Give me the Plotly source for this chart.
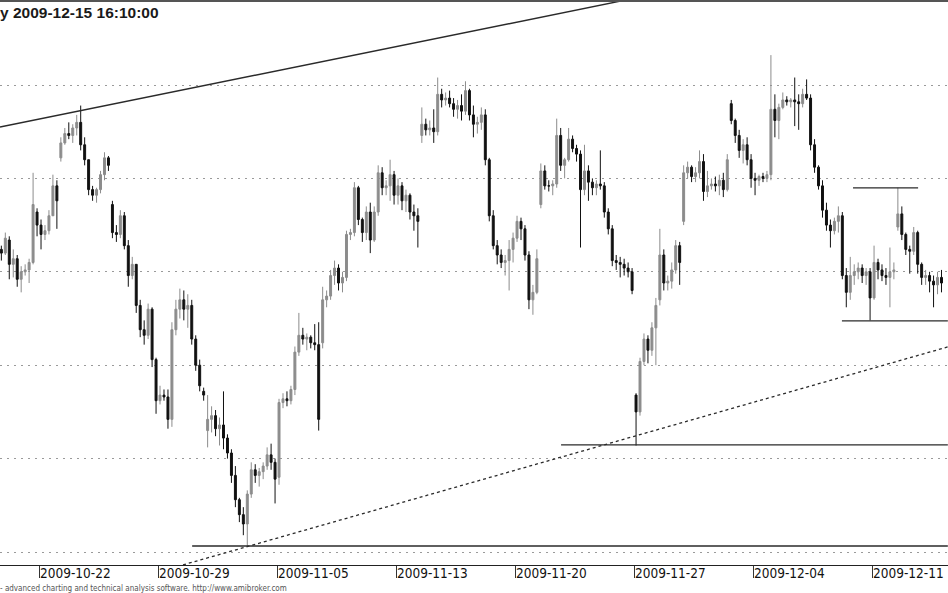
import plotly.graph_objects as go

# Trading days shown (hourly-style bars, 6 per day)
days = ["2009-10-20", "2009-10-21", "2009-10-22", "2009-10-23", "2009-10-26", "2009-10-27",
        "2009-10-28", "2009-10-29", "2009-10-30", "2009-11-02", "2009-11-03", "2009-11-04",
        "2009-11-05", "2009-11-06", "2009-11-09", "2009-11-10", "2009-11-12", "2009-11-13",
        "2009-11-16", "2009-11-17", "2009-11-18", "2009-11-19", "2009-11-20", "2009-11-23",
        "2009-11-24", "2009-11-25", "2009-11-26", "2009-11-27", "2009-11-30", "2009-12-01",
        "2009-12-02", "2009-12-03", "2009-12-04", "2009-12-07", "2009-12-08", "2009-12-09",
        "2009-12-10", "2009-12-11", "2009-12-14", "2009-12-15"]
bars_per_day = 6

opens = [
    2312, 2311, 2312, 2310, 2317, 2304,
    2307, 2296, 2300, 2301, 2305, 2332,
    2325, 2320, 2322, 2330, 2346, 2361,
    2369, 2374, 2373, 2377, 2380, 2368,
    2360, 2344, 2341, 2344, 2352, 2361,
    2336, 2321, 2320, 2330, 2314, 2298,
    2304, 2282, 2269, 2266, 2280, 2253,
    2231, 2234, 2233, 2221, 2269, 2280,
    2285, 2280, 2282, 2264, 2250, 2236,
    2215, 2221, 2223, 2216, 2218, 2211,
    2203, 2191, 2178, 2170, 2165, 2181,
    2194, 2191, 2193, 2196, 2202, 2198,
    2190, 2230, 2232, 2231, 2237, 2257,
    2266, 2264, 2265, 2262, 2261, 2262,
    2285, 2287, 2298, 2302, 2294, 2297,
    2320, 2321, 2345, 2328, 2321, 2332,
    2317, 2332, 2353, 2345, 2346, 2352,
    2341, 2346, 2338, 2341, 2332, 2330,
    2373, 2379, 2376, 2377, 2375, 2395,
    2392, 2393, 2390, 2387, 2389, 2386,
    2397, 2384, 2379, 2380, 2384, 2360,
    2330, 2314, 2309, 2305, 2306, 2312,
    2318, 2327, 2323, 2309, 2285, 2289,
    2336, 2354, 2346, 2346, 2347, 2373,
    2357, 2360, 2371, 2366, 2363, 2344,
    2354, 2348, 2345, 2347, 2346, 2332,
    2323, 2306, 2305, 2304, 2302, 2300,
    2234, 2225, 2252, 2264, 2258, 2270,
    2285, 2309, 2294, 2295, 2301, 2314,
    2327, 2353, 2356, 2351, 2353, 2359,
    2343, 2346, 2347, 2346, 2349, 2344,
    2390, 2381, 2373, 2365, 2368, 2360,
    2350, 2349, 2351, 2350, 2352, 2387,
    2381, 2388, 2392, 2391, 2392, 2391,
    2390, 2395, 2393, 2368, 2356, 2346,
    2333, 2325, 2322, 2327, 2330, 2298,
    2289, 2298, 2300, 2302, 2298, 2300,
    2286, 2305, 2301, 2298, 2297, 2300,
    2324, 2331, 2320, 2312, 2311, 2321,
    2304, 2297, 2298, 2295, 2293, 2297,
]
highs = [
    2315, 2314, 2314, 2321, 2319, 2312,
    2309, 2303, 2304, 2307, 2353, 2334,
    2328, 2325, 2333, 2352, 2349, 2372,
    2377, 2380, 2379, 2384, 2389, 2372,
    2360, 2346, 2345, 2354, 2364, 2362,
    2338, 2325, 2333, 2332, 2317, 2308,
    2304, 2285, 2274, 2283, 2281, 2254,
    2239, 2237, 2237, 2273, 2285, 2291,
    2290, 2288, 2285, 2266, 2253, 2238,
    2234, 2228, 2226, 2222, 2236, 2213,
    2205, 2196, 2179, 2174, 2183, 2198,
    2197, 2195, 2198, 2206, 2208, 2200,
    2232, 2235, 2236, 2239, 2260, 2278,
    2270, 2267, 2266, 2272, 2273, 2292,
    2290, 2301, 2306, 2304, 2300, 2322,
    2323, 2348, 2346, 2329, 2335, 2337,
    2335, 2357, 2356, 2349, 2360, 2354,
    2350, 2348, 2344, 2342, 2336, 2334,
    2388, 2382, 2381, 2387, 2404, 2398,
    2396, 2397, 2393, 2392, 2395, 2402,
    2398, 2389, 2383, 2388, 2387, 2361,
    2333, 2317, 2312, 2309, 2317, 2321,
    2330, 2329, 2325, 2311, 2293, 2312,
    2358, 2357, 2349, 2349, 2382, 2377,
    2361, 2377, 2373, 2368, 2365, 2368,
    2357, 2350, 2349, 2365, 2348, 2334,
    2325, 2309, 2308, 2307, 2305, 2302,
    2235, 2254, 2267, 2266, 2273, 2286,
    2323, 2312, 2298, 2305, 2317, 2316,
    2357, 2359, 2357, 2356, 2365, 2363,
    2354, 2350, 2351, 2352, 2353, 2363,
    2392, 2382, 2376, 2371, 2372, 2363,
    2353, 2352, 2353, 2354, 2416, 2395,
    2390, 2396, 2394, 2393, 2404, 2395,
    2398, 2403, 2395, 2371, 2357, 2349,
    2337, 2328, 2329, 2335, 2332, 2302,
    2308, 2304, 2305, 2304, 2302, 2302,
    2314, 2307, 2304, 2302, 2313, 2305,
    2345, 2335, 2321, 2314, 2324, 2322,
    2305, 2301, 2300, 2298, 2300, 2301,
]
lows = [
    2307, 2305, 2306, 2309, 2296, 2297,
    2292, 2289, 2298, 2294, 2304, 2319,
    2312, 2317, 2320, 2330, 2323, 2359,
    2368, 2371, 2369, 2373, 2365, 2357,
    2341, 2338, 2337, 2342, 2349, 2354,
    2318, 2316, 2318, 2312, 2292, 2296,
    2278, 2265, 2261, 2264, 2249, 2224,
    2229, 2231, 2216, 2217, 2266, 2275,
    2274, 2270, 2261, 2247, 2236, 2231,
    2206, 2214, 2212, 2207, 2205, 2200,
    2187, 2174, 2166, 2159, 2153, 2179,
    2187, 2185, 2189, 2194, 2194, 2176,
    2186, 2227, 2228, 2229, 2234, 2255,
    2261, 2258, 2259, 2258, 2215, 2259,
    2281, 2285, 2293, 2290, 2289, 2295,
    2317, 2319, 2325, 2316, 2317, 2310,
    2316, 2330, 2341, 2341, 2338, 2336,
    2336, 2333, 2332, 2328, 2322, 2313,
    2369, 2373, 2373, 2369, 2373, 2388,
    2389, 2388, 2383, 2382, 2381, 2384,
    2381, 2372, 2374, 2376, 2357, 2327,
    2312, 2304, 2302, 2298, 2290, 2305,
    2316, 2317, 2306, 2280, 2277, 2288,
    2334, 2344, 2343, 2341, 2345, 2354,
    2350, 2359, 2364, 2359, 2313, 2341,
    2338, 2341, 2341, 2344, 2329, 2320,
    2303, 2301, 2297, 2298, 2297, 2288,
    2207, 2223, 2250, 2251, 2255, 2250,
    2282, 2290, 2290, 2291, 2299, 2293,
    2325, 2350, 2348, 2348, 2350, 2338,
    2340, 2344, 2343, 2341, 2340, 2343,
    2379, 2369, 2361, 2358, 2357, 2345,
    2341, 2346, 2348, 2348, 2349, 2372,
    2371, 2387, 2389, 2388, 2378, 2376,
    2388, 2392, 2365, 2353, 2344, 2329,
    2322, 2313, 2320, 2321, 2296, 2281,
    2285, 2293, 2296, 2294, 2293, 2274,
    2285, 2296, 2295, 2293, 2281, 2296,
    2322, 2317, 2309, 2299, 2309, 2299,
    2293, 2293, 2289, 2281, 2288, 2289,
]
closes = [
    2311, 2312, 2310, 2318, 2304, 2307,
    2296, 2300, 2301, 2305, 2336, 2325,
    2320, 2322, 2330, 2346, 2338, 2369,
    2374, 2373, 2377, 2380, 2368, 2360,
    2344, 2341, 2344, 2352, 2361, 2357,
    2321, 2320, 2330, 2314, 2298, 2304,
    2282, 2269, 2266, 2280, 2253, 2231,
    2234, 2233, 2221, 2269, 2280, 2285,
    2280, 2282, 2264, 2250, 2239, 2234,
    2221, 2223, 2216, 2218, 2211, 2203,
    2191, 2178, 2170, 2165, 2181, 2194,
    2191, 2193, 2196, 2202, 2198, 2189,
    2230, 2232, 2231, 2237, 2257, 2266,
    2264, 2265, 2262, 2261, 2221, 2285,
    2287, 2298, 2302, 2294, 2297, 2320,
    2321, 2345, 2328, 2321, 2332, 2317,
    2332, 2353, 2345, 2346, 2352, 2341,
    2346, 2338, 2341, 2332, 2330, 2327,
    2379, 2376, 2377, 2375, 2395, 2392,
    2393, 2390, 2387, 2389, 2386, 2397,
    2384, 2379, 2380, 2384, 2360, 2330,
    2314, 2309, 2305, 2306, 2312, 2318,
    2327, 2323, 2309, 2285, 2289, 2307,
    2354, 2346, 2346, 2347, 2373, 2357,
    2360, 2371, 2366, 2363, 2344, 2354,
    2348, 2345, 2347, 2346, 2332, 2323,
    2306, 2305, 2304, 2302, 2300, 2290,
    2225, 2252, 2264, 2258, 2270, 2282,
    2309, 2294, 2295, 2301, 2314, 2305,
    2353, 2356, 2351, 2353, 2359, 2343,
    2346, 2347, 2346, 2349, 2344, 2360,
    2381, 2373, 2365, 2368, 2360, 2350,
    2349, 2351, 2350, 2352, 2387, 2381,
    2388, 2392, 2391, 2392, 2391, 2390,
    2395, 2393, 2368, 2356, 2346, 2333,
    2325, 2322, 2327, 2330, 2298, 2289,
    2298, 2300, 2302, 2298, 2300, 2286,
    2305, 2301, 2298, 2297, 2300, 2301,
    2331, 2320, 2312, 2311, 2321, 2304,
    2297, 2298, 2295, 2293, 2297, 2294,
]

tick_dates = ["2009-10-22", "2009-10-29", "2009-11-05", "2009-11-13",
              "2009-11-20", "2009-11-27", "2009-12-04", "2009-12-11"]
grid_levels = [2150, 2200, 2250, 2300, 2350, 2400]

# Hand-drawn trend lines (bar index, price)
upper_trend_x = [1.66, 240.6]
upper_trend_y = [2377.5, 2480.5]
lower_trend_x = [47.8, 240.6]
lower_trend_y = [2143.1, 2259.8]
level_lines = [  # (x start, x end, price)
    (50.1, 240.6, 2153.2),
    (143.1, 240.6, 2207.3),
    (213.9, 240.6, 2273.7),
    (216.7, 233.1, 2344.9),
]

title_text = "y 2009-12-15 16:10:00"
footer_text = "- advanced charting and technical analysis software. http://www.amibroker.com"

x = list(range(len(closes)))
tickvals = [days.index(d) * bars_per_day - 0.5 for d in tick_dates]

fig = go.Figure()
fig.add_trace(go.Candlestick(
    x=x, open=opens, high=highs, low=lows, close=closes,
    increasing=dict(line=dict(color="#8c8c8c", width=1), fillcolor="#8c8c8c"),
    decreasing=dict(line=dict(color="#111111", width=1), fillcolor="#111111"),
    whiskerwidth=0, showlegend=False,
))

line_color = "#2a2a2a"
fig.add_trace(go.Scatter(x=upper_trend_x, y=upper_trend_y, mode="lines",
                         line=dict(color=line_color, width=1.4), showlegend=False, hoverinfo="skip"))
fig.add_trace(go.Scatter(x=lower_trend_x, y=lower_trend_y, mode="lines",
                         line=dict(color=line_color, width=1.3, dash="3px,3px"),
                         showlegend=False, hoverinfo="skip"))
for x0, x1, lvl in level_lines:
    fig.add_trace(go.Scatter(x=[x0, x1], y=[lvl, lvl], mode="lines",
                             line=dict(color=line_color, width=1.3),
                             showlegend=False, hoverinfo="skip"))

fig.update_layout(
    width=948, height=593,
    margin=dict(l=0, r=0, t=1, b=28, autoexpand=False),
    paper_bgcolor="white", plot_bgcolor="white",
    showlegend=False,
    xaxis=dict(
        range=[1.66, 240.64],
        automargin=False,
        rangeslider=dict(visible=False),
        tickmode="array", tickvals=tickvals, ticktext=tick_dates,
        ticks="outside", ticklen=12, tickwidth=1, tickcolor="#333",
        ticklabelposition="outside right", ticklabelstandoff=-4,
        tickfont=dict(family="DejaVu Sans Condensed, sans-serif", size=13.5, color="#111"),
        showline=True, linecolor="#222", linewidth=1,
        showgrid=False, zeroline=False,
    ),
    yaxis=dict(
        range=[2143.04, 2444.97],
        automargin=False,
        tickmode="array", tickvals=grid_levels, showticklabels=False, ticks="",
        showgrid=True, gridcolor="#9a9a9a", gridwidth=1, griddash="2px,5px",
        zeroline=False, showline=False,
    ),
    shapes=[dict(type="line", xref="paper", yref="paper", x0=0, x1=1, y0=1, y1=1,
                 line=dict(color="#555", width=2))],
    annotations=[
        dict(text="<b>" + title_text + "</b>", xref="paper", yref="paper", x=0, y=1,
             xanchor="left", yanchor="top", yshift=-1, xshift=-2, showarrow=False,
             font=dict(family="Liberation Sans, Arial, sans-serif", size=15.5, color="#1a1a1a")),
        dict(text=footer_text, xref="paper", yref="paper", x=0, y=-0.041, xanchor="left",
             yanchor="middle", showarrow=False, xshift=-2,
             font=dict(family="DejaVu Sans Condensed, sans-serif", size=8, color="#555")),
    ],
)

fig.write_html("out.html", config={"displayModeBar": False},
               post_script="document.body.style.margin='0';")
